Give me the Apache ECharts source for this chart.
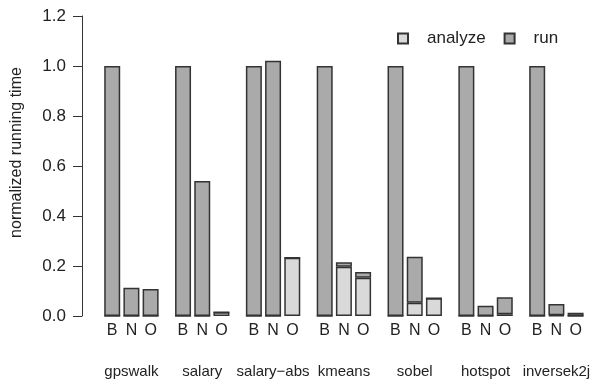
<!DOCTYPE html>
<html>
<head>
<meta charset="utf-8">
<script src="https://cdn.jsdelivr.net/npm/echarts@6/dist/echarts.min.js"></script>
<style>html,body{margin:0;padding:0;background:#fff;}#c{width:593px;height:381px;}</style>
</head>
<body>
<div id="c"></div>
<script>
const categories = ['gpswalk', 'salary', 'salary\u2212abs', 'kmeans', 'sobel', 'hotspot', 'inversek2j'];
const barLabels = ['B', 'N', 'O'];
const yTicks = [0, 0.2, 0.4, 0.6, 0.8, 1.0, 1.2];
const analyzeB = [0, 0, 0, 0, 0, 0, 0];
const runB = [1, 1, 1, 1, 1, 1, 1];
const analyzeN = [0, 0, 0, 0.197, 0.053, 0, 0.003];
const runN = [0.113, 0.54, 1.021, 0.018, 0.184, 0.041, 0.045];
const analyzeO = [0, 0.015, 0.233, 0.153, 0.071, 0.007, 0];
const runO = [0.108, 0, 0, 0.023, 0, 0.068, 0.013];

const FONT = 'Liberation Sans';
const runColor = '#aaaaaa';
const analyzeColor = '#d9d9d9';
const edge = '#333333';

function bar(name, stack, data, color) {
  return {
    type: 'bar', name: name, stack: stack, data: data,
    barWidth: 16, barGap: '20%',
    itemStyle: { color: color, borderColor: edge, borderWidth: 1.5 },
    emphasis: { disabled: true },
    animation: false
  };
}

const chart = echarts.init(document.getElementById('c'));
chart.setOption({
  animation: false,
  grid: { left: 96, top: 16, width: 498, height: 300, containLabel: false },
  legend: {
    data: ['analyze', 'run'],
    left: 392, top: 25,
    itemWidth: 10, itemHeight: 10, itemGap: 18,
    icon: 'rect',
    textStyle: { fontFamily: FONT, fontSize: 17, color: '#222', padding: [0, 0, 0, 14] }
  },
  xAxis: {
    type: 'category',
    data: categories,
    axisLine: { show: false },
    axisTick: { show: false },
    axisLabel: {
      interval: 0,
      margin: 5,
      formatter: function (v) {
        return barLabels.map(function (b) { return '{s|' + b + '}'; }).join('') + '\n{g|' + v + '}';
      },
      rich: {
        s: { width: 19.3, align: 'center', fontFamily: FONT, fontSize: 16, lineHeight: 20, color: '#222' },
        g: { fontFamily: FONT, fontSize: 15, lineHeight: 62, color: '#222' }
      }
    }
  },
  yAxis: {
    type: 'value',
    min: 0, max: 1.2, interval: 0.2,
    offset: 14,
    name: 'normalized running time',
    nameLocation: 'middle',
    nameGap: 57,
    nameTextStyle: { fontFamily: FONT, fontSize: 16, color: '#222', padding: [0, 0, 0, 27] },
    axisLine: { show: true, lineStyle: { color: '#333', width: 1 } },
    axisTick: { show: true, length: 9, lineStyle: { color: '#333', width: 1 } },
    splitLine: { show: false },
    axisLabel: {
      margin: 16,
      fontFamily: FONT, fontSize: 17, color: '#222',
      formatter: function (v) { return v.toFixed(1); }
    }
  },
  series: [
    bar('analyze', 'B', analyzeB, analyzeColor),
    bar('run', 'B', runB, runColor),
    bar('analyze', 'N', analyzeN, analyzeColor),
    bar('run', 'N', runN, runColor),
    bar('analyze', 'O', analyzeO, analyzeColor),
    bar('run', 'O', runO, runColor)
  ]
});
</script>
</body>
</html>
